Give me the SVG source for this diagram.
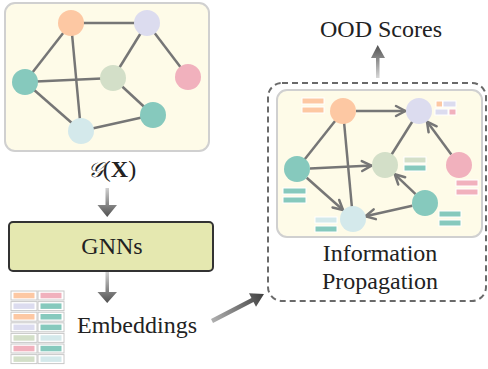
<svg xmlns="http://www.w3.org/2000/svg" width="488" height="369" viewBox="0 0 488 369">
<style>
.lbl{font-family:"Liberation Serif","Times New Roman",serif;font-size:24px;fill:#222}
.edge{stroke:#767676;stroke-width:2.5;fill:none}
.arr{stroke:#767676;stroke-width:2.5;fill:none;marker-end:url(#chev)}
.panel{fill:#fefbe8;stroke:#d0d0d0;stroke-width:2}
.pe{fill:#fdc8a3}.la{fill:#dcdcef}.te{fill:#86c9bd}.sa{fill:#d3dfc8}.pi{fill:#f1b1bd}.lb{fill:#d4e9eb}
.bar rect{stroke:#fff;stroke-width:1}
.cell{fill:#fff;stroke:#c8c8c8;stroke-width:1}
</style>
<defs>
<marker id="chev" viewBox="0 0 12 12" refX="10.5" refY="6" markerWidth="12" markerHeight="12" markerUnits="userSpaceOnUse" orient="auto" overflow="visible">
<path d="M1,1 L10.5,6 L1,11" fill="none" stroke="#767676" stroke-width="2.5" stroke-linecap="round" stroke-linejoin="round"/>
</marker>
<linearGradient id="gDown" x1="0" y1="0" x2="0" y2="1">
<stop offset="0" stop-color="#d0d0d0"/><stop offset="1" stop-color="#505050"/>
</linearGradient>
<linearGradient id="gUp" x1="0" y1="1" x2="0" y2="0">
<stop offset="0" stop-color="#d8d8d8"/><stop offset="1" stop-color="#505050"/>
</linearGradient>
<linearGradient id="gDiag" gradientUnits="userSpaceOnUse" x1="212" y1="321" x2="264" y2="294">
<stop offset="0" stop-color="#b0b0b0"/><stop offset="1" stop-color="#404040"/>
</linearGradient>
</defs>

<!-- left input graph -->
<g id="input-graph">
<rect class="panel" x="5" y="3" width="204" height="148" rx="10"/>
<g>
<line class="edge" x1="71" y1="23" x2="147" y2="23"/>
<line class="edge" x1="71" y1="23" x2="25" y2="82"/>
<line class="edge" x1="71" y1="23" x2="81" y2="131"/>
<line class="edge" x1="147" y1="23" x2="113" y2="78"/>
<line class="edge" x1="147" y1="23" x2="188" y2="77"/>
<line class="edge" x1="25" y1="82" x2="113" y2="78"/>
<line class="edge" x1="25" y1="82" x2="81" y2="131"/>
<line class="edge" x1="113" y1="78" x2="153" y2="115"/>
<line class="edge" x1="81" y1="131" x2="153" y2="115"/>
</g>
<circle class="pe" cx="71" cy="23" r="13"/>
<circle class="la" cx="147" cy="23" r="13"/>
<circle class="te" cx="25" cy="82" r="13"/>
<circle class="sa" cx="113" cy="78" r="13"/>
<circle class="pi" cx="188" cy="77" r="13"/>
<circle class="te" cx="153" cy="115" r="13"/>
<circle class="lb" cx="81" cy="131" r="13"/>
</g>
<g id="graph-label">
<text class="lbl" x="112" y="177" text-anchor="middle" font-size="23"><tspan font-family="DejaVu Serif,serif" font-style="italic" font-size="21">𝒢</tspan>(<tspan font-weight="bold">X</tspan>)</text>
</g>

<!-- GNNs -->
<g id="gnns">
<rect x="9" y="222" width="204" height="49" rx="4" fill="#e5e8b0" stroke="#333" stroke-width="2"/>
<text class="lbl" x="112" y="254" text-anchor="middle">GNNs</text>
</g>

<!-- embeddings -->
<g id="embeddings">
<g>
<rect class="cell" x="11" y="291" width="26" height="9"/><rect class="pe" x="13.5" y="292.8" width="21" height="5.5"/>
<rect class="cell" x="38" y="291" width="26" height="9"/><rect class="pi" x="40.5" y="292.8" width="21" height="5.5"/>
<rect class="cell" x="11" y="301.6" width="26" height="9"/><rect class="la" x="13.5" y="303.4" width="21" height="5.5"/>
<rect class="cell" x="38" y="301.6" width="26" height="9"/><rect class="te" x="40.5" y="303.4" width="21" height="5.5"/>
<rect class="cell" x="11" y="312.2" width="26" height="9"/><rect class="pe" x="13.5" y="314" width="21" height="5.5"/>
<rect class="cell" x="38" y="312.2" width="26" height="9"/><rect class="te" x="40.5" y="314" width="21" height="5.5"/>
<rect class="cell" x="11" y="322.8" width="26" height="9"/><rect class="la" x="13.5" y="324.6" width="21" height="5.5"/>
<rect class="cell" x="38" y="322.8" width="26" height="9"/><rect class="te" x="40.5" y="324.6" width="21" height="5.5"/>
<rect class="cell" x="11" y="333.4" width="26" height="9"/><rect class="sa" x="13.5" y="335.2" width="21" height="5.5"/>
<rect class="cell" x="38" y="333.4" width="26" height="9"/><rect class="lb" x="40.5" y="335.2" width="21" height="5.5"/>
<rect class="cell" x="11" y="344" width="26" height="9"/><rect class="pi" x="13.5" y="345.8" width="21" height="5.5"/>
<rect class="cell" x="38" y="344" width="26" height="9"/><rect class="te" x="40.5" y="345.8" width="21" height="5.5"/>
<rect class="cell" x="11" y="354.6" width="26" height="9"/><rect class="sa" x="13.5" y="356.4" width="21" height="5.5"/>
<rect class="cell" x="38" y="354.6" width="26" height="9"/><rect class="lb" x="40.5" y="356.4" width="21" height="5.5"/>
</g>
<text class="lbl" x="77" y="333">Embeddings</text>
</g>

<!-- information propagation -->
<g id="propagation">
<rect x="268" y="83" width="218" height="218" rx="14" fill="none" stroke="#6a6a6a" stroke-width="2" stroke-dasharray="6 4"/>
<rect class="panel" x="277" y="90" width="205" height="147" rx="10"/>
<g>
<line class="edge" x1="343" y1="111" x2="297" y2="169"/>
<line class="edge" x1="343" y1="111" x2="353" y2="219"/>
<line class="edge" x1="419" y1="111" x2="385" y2="165"/>
<line class="arr" x1="356" y1="111" x2="405.5" y2="111"/>
<line class="arr" x1="451.3" y1="154.6" x2="427" y2="121.6"/>
<line class="arr" x1="310" y1="168.4" x2="371.5" y2="165.6"/>
<line class="arr" x1="306.7" y1="177.7" x2="343" y2="210"/>
<line class="arr" x1="415.6" y1="194.1" x2="394.8" y2="174.3"/>
<line class="arr" x1="412.3" y1="205.8" x2="365.5" y2="216.3"/>
</g>
<circle class="pe" cx="343" cy="111" r="13"/>
<circle class="la" cx="419" cy="111" r="13"/>
<circle class="te" cx="297" cy="169" r="13"/>
<circle class="sa" cx="385" cy="165" r="13"/>
<circle class="pi" cx="459" cy="165" r="13"/>
<circle class="te" cx="425" cy="203" r="13"/>
<circle class="lb" cx="353" cy="219" r="13"/>
<g class="bar">
<rect class="pe" x="302" y="98" width="22" height="6"/><rect class="pe" x="302" y="107" width="22" height="6"/>
<rect class="pe" x="436" y="101" width="6.5" height="6"/><rect class="la" x="443" y="101" width="13" height="6"/>
<rect class="la" x="435" y="109" width="13" height="6"/><rect class="pi" x="449" y="109" width="7" height="6"/>
<rect class="sa" x="404" y="157" width="22" height="6"/><rect class="te" x="404" y="165" width="22" height="6"/>
<rect class="te" x="283" y="188" width="23" height="6"/><rect class="te" x="283" y="197" width="23" height="6"/>
<rect class="pi" x="456" y="180" width="22" height="6"/><rect class="pi" x="456" y="189" width="22" height="6"/>
<rect class="te" x="439" y="211" width="22" height="6"/><rect class="te" x="439" y="220" width="22" height="6"/>
<rect class="lb" x="315" y="217" width="22" height="6"/><rect class="te" x="315" y="226" width="22" height="6"/>
</g>
<text class="lbl" x="380" y="261" text-anchor="middle">Information</text>
<text class="lbl" x="380" y="289" text-anchor="middle">Propagation</text>
</g>

<!-- OOD scores -->
<g id="ood-scores">
<text class="lbl" x="381" y="37" text-anchor="middle">OOD Scores</text>
</g>

<!-- connectors -->
<g id="connectors">
<polygon fill="url(#gDown)" points="105.5,188 109,188 109,205 117,205 107.2,217 97.5,205 105.5,205"/>
<polygon fill="url(#gDown)" points="105.5,272 109,272 109,292 117,292 107.2,303 97.5,292 105.5,292"/>
<polygon fill="url(#gUp)" points="376,78 379.5,78 379.5,58 385,58 377.7,45 371,58 376,58"/>
<polygon fill="url(#gDiag)" points="211,319.05 251.5,298.05 249,293.35 264,294 256,306.65 253.5,301.95 213,322.95"/>
</g>
</svg>
